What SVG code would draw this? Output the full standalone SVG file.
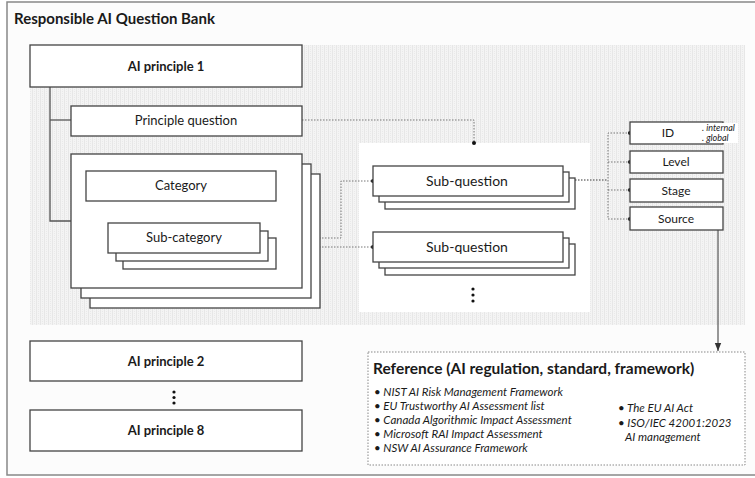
<svg xmlns="http://www.w3.org/2000/svg" width="755" height="478" viewBox="0 0 755 478">
  <defs>
    <pattern id="grain" width="4" height="4" patternUnits="userSpaceOnUse">
      <rect width="4" height="4" fill="#f4f4f4"/>
      <rect x="0" y="0" width="1" height="4" fill="#e7e7e7"/>
      <rect x="2" y="1" width="1" height="1" fill="#e9e9e9"/>
      <rect x="2" y="3" width="1" height="1" fill="#e9e9e9"/>
    </pattern>
    <marker id="arrow" viewBox="0 0 10 10" refX="10" refY="5" markerWidth="7" markerHeight="7" orient="auto">
      <path d="M0,1 L10,5 L0,9 z" fill="#333"/>
    </marker>
  </defs>
  <style>
    .box { fill: #fff; stroke: #444; stroke-width: 1.3; }
    .solid { fill: none; stroke: #555; stroke-width: 1.3; }
    .dotted { fill: none; stroke: #777; stroke-width: 1; stroke-dasharray: 1.5 1.5; }
    .dot { fill: #111; }
    .t { font-family: Lato, "Liberation Sans", sans-serif; fill: #1a1a1a; text-anchor: middle; }
    .b { font-weight: bold; }
    .it { font-family: Lato, "Liberation Sans", sans-serif; font-style: italic; fill: #1a1a1a; }
  </style>

  <!-- outer frame -->
  <rect x="7" y="2" width="760" height="473" fill="#fcfcfc" stroke="#888" stroke-width="1.5"/>
  <text x="14" y="24" class="t b" style="text-anchor:start;font-size:15px">Responsible AI Question Bank</text>

  <!-- textured backdrop for principle 1 and white panel for sub-questions -->
  <rect x="30" y="45" width="715" height="280" fill="url(#grain)"/>
  <rect x="359" y="143" width="231" height="169" fill="#fff"/>

  <g id="connectors">
    <!-- principle tree -->
    <polyline class="solid" points="50,87 50,221 71,221"/>
    <line class="solid" x1="50" y1="120" x2="71" y2="120"/>
    <!-- category to sub-category -->
    <line class="solid" x1="184" y1="201" x2="184" y2="223"/>
    <!-- principle question to sub-questions -->
    <polyline class="dotted" points="302,120 474,120 474,143"/>
    <circle class="dot" cx="474" cy="143" r="2"/>
    <!-- sub-category to sub-questions -->
    <polyline class="dotted" points="268,238 341,238 341,181 373,181"/>
    <circle class="dot" cx="373" cy="181" r="2"/>
    <line class="dotted" x1="268" y1="247" x2="373" y2="247"/>
    <circle class="dot" cx="373" cy="247" r="2"/>
    <!-- sub-question to attributes -->
    <line class="dotted" x1="563" y1="180" x2="608" y2="180" style="stroke-width:1.6"/>
    <polyline class="dotted" points="630,133 608,133 608,219 630,219"/>
    <line class="dotted" x1="608" y1="162" x2="630" y2="162"/>
    <line class="dotted" x1="608" y1="190" x2="630" y2="190"/>
    <circle class="dot" cx="630" cy="133" r="2"/>
    <circle class="dot" cx="630" cy="162" r="2"/>
    <circle class="dot" cx="630" cy="190" r="2"/>
    <circle class="dot" cx="630" cy="219" r="2"/>
    <!-- source to reference -->
    <line x1="718" y1="227" x2="718" y2="351" stroke="#555" stroke-width="1.2" marker-end="url(#arrow)"/>
    <circle class="dot" cx="718" cy="227" r="2"/>
  </g>

  <g id="principle1">
    <rect class="box" x="30" y="45" width="272" height="42"/>
    <text class="t b" x="166" y="71" font-size="13">AI principle 1</text>
  </g>

  <g id="principle-question">
    <rect class="box" x="71" y="106" width="231" height="30"/>
    <text class="t" x="186" y="125" font-size="13">Principle question</text>
  </g>

  <g id="category-stack">
    <rect class="box" x="90" y="174" width="230" height="134"/>
    <rect class="box" x="81" y="164" width="230" height="134"/>
    <rect class="box" x="71" y="154" width="231" height="134"/>
  </g>

  <g id="category">
    <rect class="box" x="86" y="171" width="190" height="30"/>
    <text class="t" x="181" y="190" font-size="13">Category</text>
  </g>

  <g id="sub-category">
    <rect class="box" x="123" y="238" width="153" height="31"/>
    <rect class="box" x="116" y="231" width="152" height="30"/>
    <rect class="box" x="108" y="223" width="152" height="30"/>
    <text class="t" x="184" y="242" font-size="13">Sub-category</text>
  </g>

  <g id="sub-question-1">
    <rect class="box" x="385" y="178" width="190" height="31"/>
    <rect class="box" x="379" y="172" width="190" height="30"/>
    <rect class="box" x="373" y="166" width="190" height="30"/>
    <text class="t" x="467" y="186" font-size="14">Sub-question</text>
  </g>

  <g id="sub-question-2">
    <rect class="box" x="385" y="244" width="190" height="31"/>
    <rect class="box" x="379" y="238" width="190" height="30"/>
    <rect class="box" x="373" y="232" width="190" height="30"/>
    <text class="t" x="467" y="252" font-size="14">Sub-question</text>
  </g>

  <g id="more-sub-questions">
    <circle class="dot" cx="473" cy="289" r="1.6"/>
    <circle class="dot" cx="473" cy="295" r="1.6"/>
    <circle class="dot" cx="473" cy="301" r="1.6"/>
  </g>

  <g id="attr-id">
    <rect class="box" x="630" y="122" width="93" height="22"/>
    <rect x="697" y="123" width="41" height="20" fill="#fff"/>
    <text class="t" x="668" y="137" font-size="12">ID</text>
    <text class="it" x="702" y="131" font-size="9">. internal</text>
    <text class="it" x="702" y="141" font-size="9">. global</text>
  </g>

  <g id="attr-level">
    <rect class="box" x="630" y="151" width="93" height="22"/>
    <text class="t" x="676" y="166" font-size="12">Level</text>
  </g>

  <g id="attr-stage">
    <rect class="box" x="630" y="179" width="93" height="23"/>
    <text class="t" x="676" y="195" font-size="12">Stage</text>
  </g>

  <g id="attr-source">
    <rect class="box" x="630" y="207" width="93" height="23"/>
    <text class="t" x="676" y="223" font-size="12">Source</text>
  </g>

  <g id="principle2">
    <rect class="box" x="30" y="341" width="272" height="40"/>
    <text class="t b" x="166" y="366" font-size="13">AI principle 2</text>
  </g>

  <g id="more-principles">
    <circle class="dot" cx="174" cy="392" r="1.6"/>
    <circle class="dot" cx="174" cy="397.5" r="1.6"/>
    <circle class="dot" cx="174" cy="403" r="1.6"/>
  </g>

  <g id="principle8">
    <rect class="box" x="30" y="410" width="272" height="41"/>
    <text class="t b" x="166" y="435" font-size="13">AI principle 8</text>
  </g>

  <g id="reference">
    <rect x="368" y="352" width="377" height="113" fill="#fff" stroke="#888" stroke-width="1" stroke-dasharray="1.5 1.5"/>
    <text class="t b" x="373" y="374" style="text-anchor:start" font-size="15.5">Reference (AI regulation, standard, framework)</text>
    <g font-size="11.5">
      <text class="it" x="374" y="396">• NIST AI Risk Management Framework</text>
      <text class="it" x="374" y="410">• EU Trustworthy AI Assessment list</text>
      <text class="it" x="374" y="424">• Canada Algorithmic Impact Assessment</text>
      <text class="it" x="374" y="438">• Microsoft  RAI Impact Assessment</text>
      <text class="it" x="374" y="452">• NSW AI Assurance Framework</text>
      <text class="it" x="618" y="412">• The EU AI Act</text>
      <text class="it" x="618" y="427">• ISO/IEC 42001:2023</text>
      <text class="it" x="625" y="441">AI management</text>
    </g>
  </g>
</svg>
